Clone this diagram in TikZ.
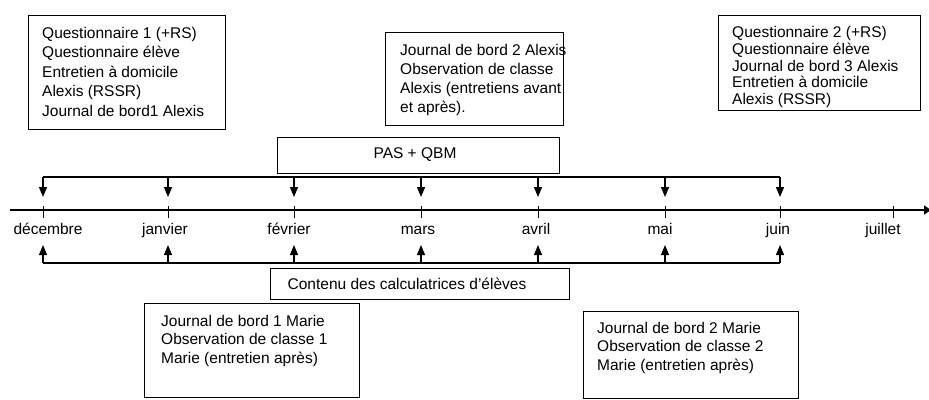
\documentclass[tikz,border=0pt]{standalone}
\usepackage{fontspec}
\setmainfont{Liberation Sans}
\usetikzlibrary{arrows.meta}
\newcommand\myfs{\fontsize{15.5}{19.5}\selectfont}
\begin{document}
\begin{tikzpicture}[x=1pt,y=-1pt,
  box/.style={draw=black, line width=1pt, inner sep=0pt, outer sep=0pt, anchor=north west},
  txt/.style={font=\myfs, align=left, anchor=north west, inner sep=0pt},
  month/.style={font=\myfs, anchor=base, inner sep=0pt},
  brk/.style={line width=1.2pt},
  arr/.style={line width=1.2pt, -{Triangle[length=10pt,width=8pt]}},
  tick/.style={line width=1pt}]
\useasboundingbox (0,0) rectangle (929,399);
% boxes
\node[box, minimum width=197pt, minimum height=114pt] (b1) at (28,15) {};
\node[box, minimum width=178pt, minimum height=93pt] (b2) at (385,32) {};
\node[box, minimum width=202pt, minimum height=95pt] (b3) at (718,15) {};
\node[box, minimum width=282pt, minimum height=36pt] (pas) at (277,137) {};
\node[box, minimum width=299pt, minimum height=31pt] (cont) at (270,268) {};
\node[box, minimum width=215pt, minimum height=94pt] (m1) at (144,303) {};
\node[box, minimum width=215pt, minimum height=87pt] (m2) at (583,311) {};
% texts
\node[txt] (t1) at (42,27) {Questionnaire 1 (+RS)\\Questionnaire élève\\Entretien à domicile\\Alexis (RSSR)\\Journal de bord1 Alexis};
\node[txt, font=\fontsize{15.5}{19}\selectfont] (t2) at (400,44) {Journal de bord 2 Alexis\\Observation de classe\\Alexis (entretiens avant\\et après).};
\node[txt, font=\fontsize{15.5}{16.8}\selectfont] (t3) at (732,26) {Questionnaire 2 (+RS)\\Questionnaire élève\\Journal de bord 3 Alexis\\Entretien à domicile\\Alexis (RSSR)};
\node[txt, font=\fontsize{15.5}{18.5}\selectfont] (tm1) at (161,315) {Journal de bord 1 Marie\\Observation de classe 1\\Marie (entretien après)};
\node[txt, font=\fontsize{15.5}{18.5}\selectfont] (tm2) at (597,322) {Journal de bord 2 Marie\\Observation de classe 2\\Marie (entretien après)};
\node[font=\myfs, inner sep=0pt] (tpas) at (415,155) {PAS + QBM};
\node[font=\myfs, inner sep=0pt] (tcont) at (407,284) {Contenu des calculatrices d'élèves};
% timeline
\coordinate (ls) at (10,210);
\coordinate (le) at (931,210);
\draw[line width=2.5pt, -{Triangle[length=7pt,width=9pt]}] (ls) -- (le);
% months
\foreach \i/\x/\lx/\name in {1/43/48/décembre, 2/168/165/janvier, 3/294/289/février, 4/421/418/mars, 5/538/536/avril, 6/665/660/mai, 7/780/778/juin, 8/893/883/juillet}{
  \coordinate (tka\i) at (\x,206);
  \coordinate (tkb\i) at (\x,218);
  \draw[tick] (tka\i) -- (tkb\i);
  \node[month] (lab\i) at (\lx,234) {\name};
}
% brackets
\foreach \i/\x in {1/43, 2/168, 3/294, 4/421, 5/538, 6/665, 7/780}{
  \coordinate (ta\i) at (\x,177);
  \coordinate (da\i) at (\x,197);
  \coordinate (ba\i) at (\x,263);
  \coordinate (ua\i) at (\x,245);
  \draw[arr] (ta\i) -- (da\i);
  \draw[arr] (ba\i) -- (ua\i);
}
\draw[brk] (ta1) -- (ta7);
\draw[brk] (ba1) -- (ba7);
\end{tikzpicture}
\end{document}
